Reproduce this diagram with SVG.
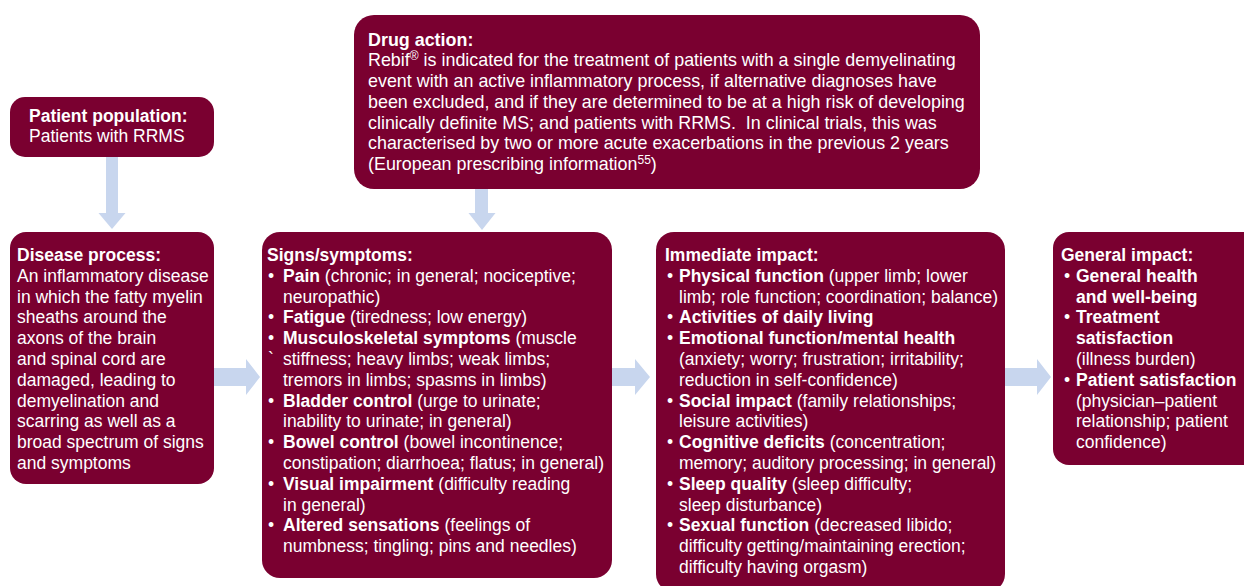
<svg xmlns="http://www.w3.org/2000/svg" width="1244" height="586" viewBox="0 0 1244 586">
  <style>
    .box { fill: #7a0030; }
    .arrow { fill: #c8d6ee; }
    text { font-family: "Liberation Sans", Arial, sans-serif; font-size: 17.5px; fill: #ffffff; }
    .b { font-weight: bold; }
    .sup { font-size: 11px; }
    #drug-action text { font-size: 17.9px; }
    #drug-action .sup { font-size: 12px; }
  </style>

  <!-- connectors: broad light-blue block arrows -->
  <g id="connectors">
    <polygon class="arrow" points="106,157 118,157 118,213 125.5,213 112,229 98.5,213 106,213"/>
    <polygon class="arrow" points="475,189 488,189 488,213 495.5,213 482,230 468.5,213 475,213"/>
    <polygon class="arrow" points="214,368 246,368 246,359 260,377 246,395 246,386 214,386"/>
    <polygon class="arrow" points="612,368 635,368 635,359 650,377 635,395 635,386 612,386"/>
    <polygon class="arrow" points="1005,368 1037,368 1037,359 1051,377 1037,395 1037,386 1005,386"/>
  </g>

  <!-- patient population -->
  <g id="patient-population">
    <rect class="box" x="10" y="97" width="204" height="60" rx="15"/>
    <text class="b" x="29" y="121.5">Patient population:</text>
    <text x="29" y="142">Patients with RRMS</text>
  </g>

  <!-- drug action -->
  <g id="drug-action">
    <rect class="box" x="354" y="15" width="626" height="174" rx="20"/>
    <text class="b" x="368" y="46">Drug action:</text>
    <text x="368" y="66.2">Rebif<tspan class="sup" dy="-6">®</tspan><tspan dy="6"> is indicated for the treatment of patients with a single demyelinating</tspan></text>
    <text x="368" y="87">event with an active inflammatory process, if alternative diagnoses have</text>
    <text x="368" y="107.8">been excluded, and if they are determined to be at a high risk of developing</text>
    <text x="368" y="128.6" xml:space="preserve">clinically definite MS; and patients with RRMS.  In clinical trials, this was</text>
    <text x="368" y="149.4">characterised by two or more acute exacerbations in the previous 2 years</text>
    <text x="368" y="170">(European prescribing information<tspan class="sup" dy="-6">55</tspan><tspan dy="6">)</tspan></text>
  </g>

  <!-- disease process -->
  <g id="disease-process">
    <rect class="box" x="10" y="232" width="204" height="252" rx="16"/>
    <text class="b" x="17" y="261">Disease process:</text>
    <text x="17" y="281.8">An inflammatory disease</text>
    <text x="17" y="302.6">in which the fatty myelin</text>
    <text x="17" y="323.4">sheaths around the</text>
    <text x="17" y="344.2">axons of the brain</text>
    <text x="17" y="365">and spinal cord are</text>
    <text x="17" y="385.8">damaged, leading to</text>
    <text x="17" y="406.6">demyelination and</text>
    <text x="17" y="427.4">scarring as well as a</text>
    <text x="17" y="448.2">broad spectrum of signs</text>
    <text x="17" y="469">and symptoms</text>
  </g>

  <!-- signs / symptoms -->
  <g id="signs-symptoms">
    <rect class="box" x="262" y="232" width="350" height="346" rx="18"/>
    <text class="b" x="267" y="261">Signs/symptoms:</text>
    <text x="268" y="281.8">•</text><text x="283" y="281.8"><tspan class="b">Pain</tspan> (chronic; in general; nociceptive;</text>
    <text x="283" y="302.6">neuropathic)</text>
    <text x="268" y="323.4">•</text><text x="283" y="323.4"><tspan class="b">Fatigue</tspan> (tiredness; low energy)</text>
    <text x="268" y="344.2">•</text><text x="283" y="344.2"><tspan class="b">Musculoskeletal symptoms</tspan> (muscle</text>
    <text x="268" y="365">`</text><text x="283" y="365">stiffness; heavy limbs; weak limbs;</text>
    <text x="283" y="385.8">tremors in limbs; spasms in limbs)</text>
    <text x="268" y="406.6">•</text><text x="283" y="406.6"><tspan class="b">Bladder control</tspan> (urge to urinate;</text>
    <text x="283" y="427.4">inability to urinate; in general)</text>
    <text x="268" y="448.2">•</text><text x="283" y="448.2"><tspan class="b">Bowel control</tspan> (bowel incontinence;</text>
    <text x="283" y="469">constipation; diarrhoea; flatus; in general)</text>
    <text x="268" y="489.8">•</text><text x="283" y="489.8"><tspan class="b">Visual impairment</tspan> (difficulty reading</text>
    <text x="283" y="510.6">in general)</text>
    <text x="268" y="531.4">•</text><text x="283" y="531.4"><tspan class="b">Altered sensations</tspan> (feelings of</text>
    <text x="283" y="552.2">numbness; tingling; pins and needles)</text>
  </g>

  <!-- immediate impact -->
  <g id="immediate-impact">
    <rect class="box" x="656" y="232" width="349" height="360" rx="18"/>
    <text class="b" x="665" y="261">Immediate impact:</text>
    <text x="667" y="281.8">•</text><text x="679" y="281.8"><tspan class="b">Physical function</tspan> (upper limb; lower</text>
    <text x="679" y="302.6">limb; role function; coordination; balance)</text>
    <text x="667" y="323.4">•</text><text class="b" x="679" y="323.4">Activities of daily living</text>
    <text x="667" y="344.2">•</text><text class="b" x="679" y="344.2">Emotional function/mental health</text>
    <text x="679" y="365">(anxiety; worry; frustration; irritability;</text>
    <text x="679" y="385.8">reduction in self-confidence)</text>
    <text x="667" y="406.6">•</text><text x="679" y="406.6"><tspan class="b">Social impact</tspan> (family relationships;</text>
    <text x="679" y="427.4">leisure activities)</text>
    <text x="667" y="448.2">•</text><text x="679" y="448.2"><tspan class="b">Cognitive deficits</tspan> (concentration;</text>
    <text x="679" y="469">memory; auditory processing; in general)</text>
    <text x="667" y="489.8">•</text><text x="679" y="489.8"><tspan class="b">Sleep quality</tspan> (sleep difficulty;</text>
    <text x="679" y="510.6">sleep disturbance)</text>
    <text x="667" y="531.4">•</text><text x="679" y="531.4"><tspan class="b">Sexual function</tspan> (decreased libido;</text>
    <text x="679" y="552.2">difficulty getting/maintaining erection;</text>
    <text x="679" y="573">difficulty having orgasm)</text>
  </g>

  <!-- general impact -->
  <g id="general-impact">
    <rect class="box" x="1053" y="232" width="210" height="233" rx="16"/>
    <text class="b" x="1061" y="261">General impact:</text>
    <text x="1064" y="281.8">•</text><text class="b" x="1076" y="281.8">General health</text>
    <text class="b" x="1076" y="302.6">and well-being</text>
    <text x="1064" y="323.4">•</text><text class="b" x="1076" y="323.4">Treatment</text>
    <text class="b" x="1076" y="344.2">satisfaction</text>
    <text x="1076" y="365">(illness burden)</text>
    <text x="1064" y="385.8">•</text><text class="b" x="1076" y="385.8">Patient satisfaction</text>
    <text x="1076" y="406.6">(physician–patient</text>
    <text x="1076" y="427.4">relationship; patient</text>
    <text x="1076" y="448.2">confidence)</text>
  </g>
</svg>
